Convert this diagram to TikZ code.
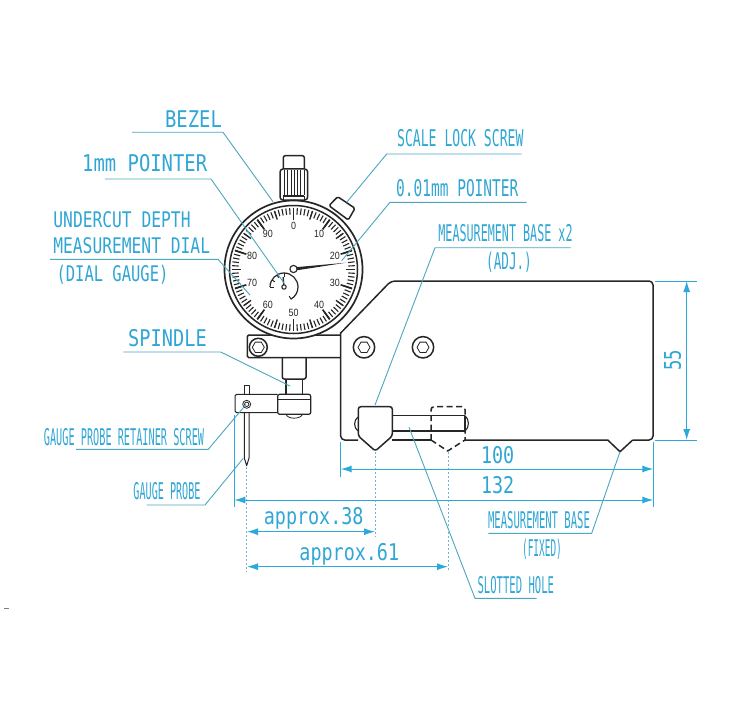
\documentclass[tikz,border=0pt]{standalone}
\usepackage{fontspec}
\usetikzlibrary{arrows.meta,calc}
\newfontfamily\lblfont{DejaVu Sans Mono}
\setsansfont{Liberation Sans}
\definecolor{txtblue}{HTML}{2FA6D4}
\definecolor{dimblue}{HTML}{2BA8DC}
\definecolor{leadblue}{HTML}{4BA6BE}
\definecolor{inkgray}{HTML}{262626}
\newcommand{\squeeze}[2]{\scalebox{#1}[1]{#2}}
\tikzset{
  lbl/.style={text=txtblue,inner sep=0pt,font=\lblfont\fontsize{23}{23}\selectfont},
  lblsmall/.style={text=txtblue,inner sep=0pt,font=\lblfont\fontsize{21.5}{21.5}\selectfont},
  dialnum/.style={text=inkgray,inner sep=0pt,font=\sffamily\fontsize{10.5}{10.5}\selectfont},
  ink/.style={draw=inkgray,line width=1.5pt,line join=round},
  thinink/.style={draw=inkgray,line width=0.8pt},
  leader/.style={draw=leadblue,line width=0.9pt},
  extline/.style={draw=dimblue,line width=0.9pt},
  dotline/.style={draw=leadblue!80,line width=1pt,dash pattern=on 2pt off 2pt},
  dimline/.style={draw=dimblue,line width=1pt,{Latex[length=11pt,width=7pt]}-{Latex[length=11pt,width=7pt]}}
}
\begin{document}
\begin{tikzpicture}[x=1pt,y=-1pt]
\useasboundingbox (0,0) rectangle (750,706);
% named points
\foreach \cname/\cx/\cy in {
  dial/293.5/269.5, sub/284/287, pivot/293.5/269, tip/346/262.7, boltA/364/347.3, boltB/423/347.3, boltC/258.3/347.3,
  bezA/132/132.3, bezB/223/132.3, bezC/273/201.7,
  oneA/105/179, oneB/211/179, oneC/284/283,
  dialA/50/259.3, dialB/218/259.3, dialC/250/295,
  spiA/123.3/352, spiB/220.7/352, spiC/290/386,
  retA/76/449.3, retB/208.3/449.3, retC/246/404.5,
  prbA/146.7/505, prbB/205/505, prbC/243.3/458.3,
  lockA/521.7/154, lockB/386.7/154, lockC/346.7/202.3,
  ptrA/526.7/202.3, ptrB/390/202.3, ptrC/341.7/260.7,
  adjA/570.7/247.7, adjB/435/247.7, adjC/375/405,
  fixA/488.3/533.3, fixB/591.7/533.3, fixC/620/451.7,
  sloA/536.7/598.3, sloB/475/598.3, sloC/409/427.3,
  hA/340.7/469, hB/653.3/469, jA/234.3/500, jB/653.3/500,
  kA/247/531.7, kB/375/531.7, mA/247/566.7, mB/448/566.7,
  vA/686.7/281, vB/686.7/440}
  \coordinate (\cname) at (\cx,\cy);
% body
\draw[ink,rounded corners=4pt] (358,440) -- (340.7,440) -- (340.7,332);
\draw[ink,rounded corners=4pt] (340.7,333) -- (391,281) -- (653,281) -- (653,440) -- (632.7,440);
\draw[ink] (632.7,440) -- (620,451.7) -- (607.7,440) -- (465,440);
\draw[ink] (392,440) -- (431,440);
% slot
\draw[ink] (392,415.7) -- (465,415.7) (392,431) -- (465,431) (465,415.7) -- (465,431);
\draw[ink,line width=1.1pt] (465,415.7) .. controls (469.5,419) and (469.5,428) .. (465,431);
\draw[ink,line width=1.1pt] (358,417) .. controls (353.5,420) and (353.5,428) .. (358,431);
% hidden base position
\draw[ink,dash pattern=on 6pt off 3.5pt,rounded corners=3pt] (431,440) -- (431,406.7) -- (465,406.7) -- (465,440);
\draw[ink,dash pattern=on 6pt off 3.5pt] (431,440) -- (447.7,451) -- (465,440);
% measurement base
\draw[ink,fill=white,rounded corners=2.5pt] (358.3,436) -- (358.3,406.7) -- (392.3,406.7) -- (392.3,436) -- (375.3,451) -- cycle;
% clamp and spindle
\draw[ink,rounded corners=1.5pt] (340.7,335) -- (247.3,335) -- (247.3,357.7) -- (340.7,357.7);
\foreach \bname/\brad in {boltA/10.7,boltB/10.7,boltC/9}{
  \draw[ink,fill=white] (\bname) circle (\brad);
  \draw[thinink] (\bname) ++(0:6) -- ++(120:6) -- ++(180:6) -- ++(240:6) -- ++(300:6) -- ++(0:6) -- cycle;
}
\draw[ink,rounded corners=2pt] (282.3,357.7) -- (282.3,379) -- (306,379) -- (306,357.7);
\draw[ink] (286,379) -- (286,394) (302.7,379) -- (302.7,394);
% probe arm
\draw[thinink] (286,414.3) .. controls (288,419.5) and (300,419.5) .. (302.7,414.3);
\draw[ink,line width=1.2pt,rounded corners=2pt,fill=white] (277.7,394.3) rectangle (310.7,414.3);
\draw[thinink] (277.7,399.3) -- (310.7,399.3);
\draw[ink,line width=1pt] (244.3,394) -- (244.3,385.7) -- (249,385.7) -- (249,394);
\draw[ink,line width=1pt,rounded corners=1.5pt] (277.7,394.3) -- (235,394.3) -- (235,412.7) -- (277.7,412.7);
\draw[ink,line width=1pt] (244.3,412.7) -- (244.3,458) -- (246.7,465.7) -- (249,458) -- (249,412.7);
\draw[thinink,fill=white] (246.7,404.3) circle (4);
\draw[thinink] (246.7,404.3) circle (2.2);
% crown
\draw[ink,rounded corners=2pt] (283.3,170) -- (283.3,155.7) -- (304.3,155.7) -- (304.3,170);
\draw[ink,rounded corners=3pt,fill=white] (280,169) rectangle (307.7,200);
\foreach \kx in {284,287.5,291,294,297,300.5,304}
  \draw[thinink] (\kx,170) -- (\kx,195);
\draw[ink] (283.3,196) -- (283.3,201) (304.3,196) -- (304.3,201) (283.3,196) -- (304.3,196);
% lock screw
\draw[ink,rounded corners=1.5pt,fill=white] (329,205.7) -- (337.7,196.7) -- (355,208.3) -- (348.3,220) -- cycle;
% dial
\draw[ink,line width=1.7pt,fill=white] (dial) circle (69);
\draw[ink,line width=1.5pt] (dial) circle (64);
\foreach \i in {0,...,99}{
  \pgfmathsetmacro{\ang}{3.6*\i-90}
  \draw[draw=inkgray,line width=1.1pt] (dial) ++(\ang:61.5) -- ++(\ang:-6.5);
}
\foreach \i in {0,5,...,95}{
  \pgfmathsetmacro{\ang}{3.6*\i-90}
  \draw[draw=inkgray,line width=1.3pt] (dial) ++(\ang:61.5) -- ++(\ang:-9);
}
\foreach \i in {0,10,...,90}{
  \pgfmathsetmacro{\ang}{3.6*\i-90}
  \draw[draw=inkgray,line width=1.6pt] (dial) ++(\ang:61.5) -- ++(\ang:-12);
  \node[dialnum] (num\i) at ($(dial)+(\ang:43.5)$) {\squeeze{0.85}{\i}};
}
% small dial
\draw[ink,line width=1.2pt] (sub) ++(180:14) arc[start angle=180,end angle=420,radius=14];
\foreach \ang in {180,210,240,270,420}
  \draw[draw=inkgray,line width=1pt] (sub) ++(\ang:14) -- ++(\ang:-3.5);
\draw[ink,line width=1.3pt] (sub) -- ++(265:10);
\draw[ink,line width=1.1pt,fill=white] (sub) circle (2.2);
% pointer
\fill[inkgray] (293.5,267.4) -- (tip) -- (293.5,270.8) -- cycle;
\draw[ink,line width=1.1pt,fill=white] (pivot) circle (3.6);
% leaders
\draw[leader] (bezA) -- (bezB) -- (bezC);
\draw[leader] (oneA) -- (oneB) -- (oneC);
\draw[leader] (dialA) -- (dialB) -- (dialC);
\draw[leader] (spiA) -- (spiB) -- (spiC);
\draw[leader] (retA) -- (retB) -- (retC);
\draw[leader] (prbA) -- (prbB) -- (prbC);
\draw[leader] (lockA) -- (lockB) -- (lockC);
\draw[leader] (ptrA) -- (ptrB) -- (ptrC);
\draw[leader] (adjA) -- (adjB) -- (adjC);
\draw[leader] (fixA) -- (fixB) -- (fixC);
\draw[leader] (sloA) -- (sloB) -- (sloC);
% extension lines
\draw[extline] (340.7,442) -- (340.7,476.7);
\draw[extline] (653.3,442) -- (653.3,506.7);
\draw[extline] (234.3,415) -- (234.3,506.7);
\draw[extline] (655,281) -- (696.7,281) (655,440) -- (696.7,440);
\draw[dotline] (246.7,467) -- (246.7,571.7);
\draw[dotline] (375.3,452) -- (375.3,536.7);
\draw[dotline] (448,452) -- (448,571);
% dimensions
\draw[dimline] (hA) -- (hB);
\draw[dimline] (jA) -- (jB);
\draw[dimline] (kA) -- (kB);
\draw[dimline] (mA) -- (mB);
\draw[dimline] (vA) -- (vB);
% labels
\node[lbl] (bezel) at (193.5,119) {\squeeze{0.82}{BEZEL}};
\node[lbl] (onemm) at (144.7,163.3) {\squeeze{0.82}{1mm POINTER}};
\node[lblsmall] (undercut) at (122,219.3) {\squeeze{0.757}{UNDERCUT DEPTH}};
\node[lblsmall] (measdial) at (131.7,246) {\squeeze{0.757}{MEASUREMENT DIAL}};
\node[lblsmall] (dialgauge) at (112.5,275) {\squeeze{0.72}{(DIAL GAUGE)}};
\node[lbl] (spindle) at (167.5,338.3) {\squeeze{0.81}{SPINDLE}};
\node[lbl] (retainer) at (124,436.7) {\squeeze{0.445}{GAUGE PROBE RETAINER SCREW}};
\node[lbl] (probe) at (167,491) {\squeeze{0.44}{GAUGE PROBE}};
\node[lbl] (lock) at (460.3,138.3) {\squeeze{0.57}{SCALE LOCK SCREW}};
\node[lbl] (ptr) at (457.3,188.3) {\squeeze{0.63}{0.01mm POINTER}};
\node[lbl] (measbase) at (505.5,233.3) {\squeeze{0.51}{MEASUREMENT BASE x2}};
\node[lbl] (adj) at (509,262.7) {\squeeze{0.55}{(ADJ.)}};
\node[lbl] (fixbase) at (539,520) {\squeeze{0.46}{MEASUREMENT BASE}};
\node[lbl] (fixed) at (542,549.3) {\squeeze{0.41}{(FIXED)}};
\node[lbl] (slotted) at (515.8,585) {\squeeze{0.46}{SLOTTED HOLE}};
\node[lbl] (appa) at (313.7,518) {\squeeze{0.8}{approx.38}};
\node[lbl] (appb) at (349.3,554) {\squeeze{0.8}{approx.61}};
\node[lbl] (hundred) at (497.7,455) {\squeeze{0.8}{100}};
\node[lbl] (onethree) at (497.7,485) {\squeeze{0.8}{132}};
\node[lbl,rotate=90] (fiftyfive) at (672.7,360) {\squeeze{0.75}{55}};
% stray mark
\draw[draw=gray,line width=0.7pt] (4,608) -- (9,608);
\end{tikzpicture}
\end{document}
